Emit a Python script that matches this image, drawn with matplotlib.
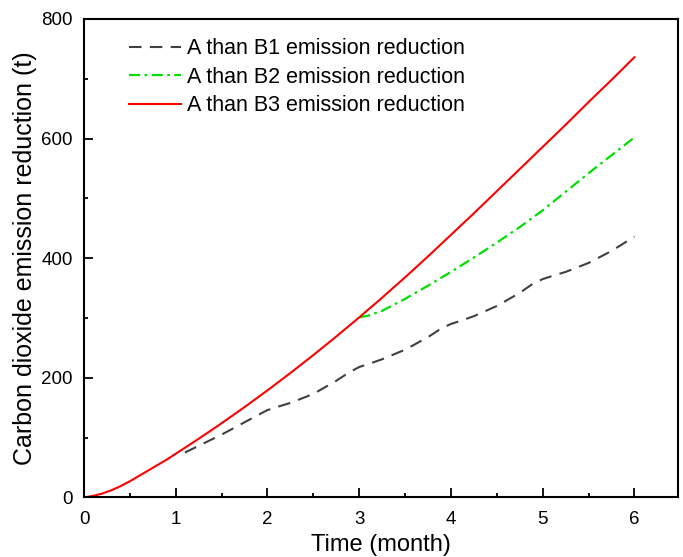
import numpy as np
import matplotlib
matplotlib.use('Agg')
import matplotlib.pyplot as plt
from matplotlib.ticker import MultipleLocator

plt.rcParams.update({
    'font.family': ['Liberation Sans', 'DejaVu Sans'],
    'font.size': 13.5,
    'xtick.direction': 'in',
    'ytick.direction': 'in',
})

# Data
x_b3 = [0, 0.1, 0.2, 0.3, 0.4, 0.5, 0.6, 0.7, 0.8, 0.9, 1.0, 1.25, 1.5, 1.75,
        2.0, 2.25, 2.5, 2.75, 3.0, 3.25, 3.5, 3.75, 4.0, 4.25, 4.5, 4.75,
        5.0, 5.25, 5.5, 5.75, 6.0]
y_b3 = [0, 2.5, 6.5, 12, 19, 27, 36, 45, 54, 63, 73, 98, 124, 151,
        179, 208, 238, 269, 301, 334, 368, 403, 439, 475, 512, 549,
        586, 623, 661, 698, 736]

x_b2 = [3.0, 3.1, 3.25, 3.5, 3.75, 4.0, 4.25, 4.5, 4.75, 5.0, 5.25, 5.5, 5.75, 6.0]
y_b2 = [301, 304, 312, 332, 354, 377, 401, 426, 452, 480, 511, 542, 572, 602]

x_b1 = [1.1, 1.5, 1.9, 2.0, 2.1, 2.25, 2.5, 2.75, 2.9, 3.0, 3.1, 3.25, 3.5, 3.75,
        3.9, 4.0, 4.1, 4.25, 4.5, 4.75, 4.9, 5.0, 5.1, 5.25, 5.5, 5.75, 6.0]
y_b1 = [75, 105, 138, 146, 151, 158, 173, 195, 210, 218, 223, 231, 247, 268,
        283, 290, 295, 303, 320, 342, 358, 365, 370, 377, 392, 412, 436]

labels = ['A than B1 emission reduction',
          'A than B2 emission reduction',
          'A than B3 emission reduction']

fig = plt.figure(figsize=(6.83, 5.57), dpi=100)
ax = fig.add_axes([0.123, 0.107, 0.869, 0.859])

ax.plot(x_b1, y_b1, color='#404040', linestyle=(0, (6, 4)), linewidth=1.5, label=labels[0])
ax.plot(x_b2, y_b2, color='#00e000', linestyle=(0, (5, 2, 1.2, 2)), linewidth=1.6, label=labels[1])
ax.plot(x_b3, y_b3, color='#ff0000', linestyle='-', linewidth=1.5, label=labels[2])

ax.set_xlim(0, 6.47)
ax.set_ylim(0, 800)
ax.xaxis.set_major_locator(MultipleLocator(1))
ax.xaxis.set_minor_locator(MultipleLocator(0.5))
ax.yaxis.set_major_locator(MultipleLocator(200))
ax.yaxis.set_minor_locator(MultipleLocator(100))
ax.tick_params(which='major', length=6.7, width=1.3, labelsize=13.5)
ax.tick_params(which='minor', length=3.2, width=1.3)
ax.tick_params(axis='x', which='major', pad=10)
ax.tick_params(axis='y', which='major', pad=8)
for s in ax.spines.values():
    s.set_linewidth(1.5)

ax.set_xlabel('Time (month)', fontsize=17, labelpad=4)
ax.set_ylabel('Carbon dioxide emission reduction (t)', fontsize=18, labelpad=3)

ax.legend(loc='upper left', bbox_to_anchor=(0.043, 1.0), frameon=False,
          handlelength=2.4, handletextpad=0.28, labelspacing=0.35, fontsize=15.5)

fig.savefig('out.png', dpi=100)
